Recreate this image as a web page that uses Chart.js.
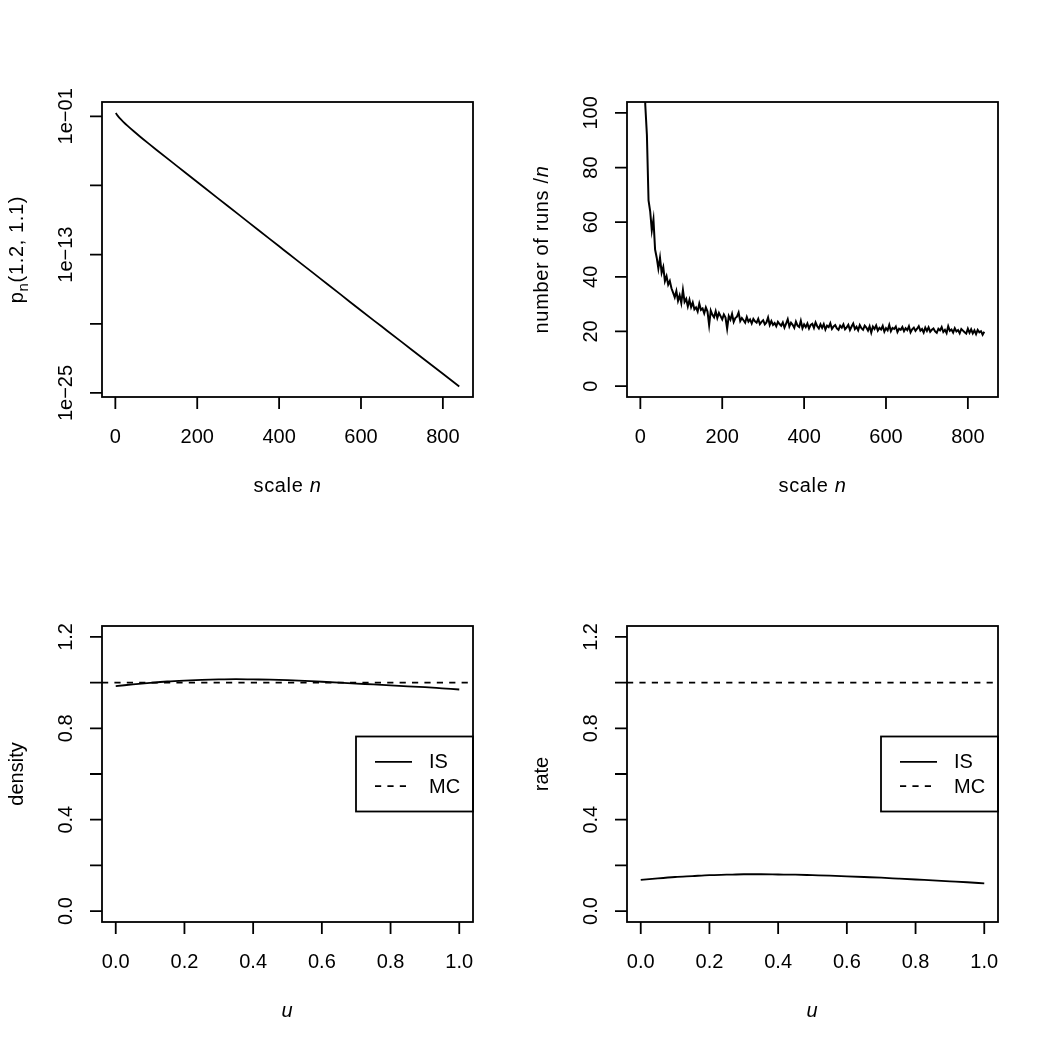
<!DOCTYPE html>
<html><head><meta charset="utf-8">
<script src="https://cdn.jsdelivr.net/npm/chart.js@4.4.1/dist/chart.umd.min.js"></script>
<style>
html,body{margin:0;padding:0;background:#fff;}
#wrap{position:relative;width:1050px;height:1050px;background:#fff;}
canvas{position:absolute;}
</style></head><body>
<div id="wrap">
<canvas id="c1" width="525" height="525" style="left:0;top:0"></canvas>
<canvas id="c2" width="525" height="525" style="left:525px;top:0"></canvas>
<canvas id="c3" width="525" height="525" style="left:0;top:525px"></canvas>
<canvas id="c4" width="525" height="525" style="left:525px;top:525px"></canvas>
</div>
<script>
// ---------- data ----------
// panel 1: p_n(1.2, 1.1) vs scale n (log scale)
const pScaleN = [1,5,10,20,30,45,60,80,100,150,200,250,300,350,400,424,450,500,550,600,650,700,750,800,840];
const pValues = [1.95e-1,1.20e-1,7.24e-2,3.16e-2,1.48e-2,5.01e-3,1.78e-3,4.68e-4,1.26e-4,5.01e-6,2.00e-7,7.94e-9,3.24e-10,1.29e-11,5.25e-13,1.12e-13,2.14e-14,8.71e-16,3.55e-17,1.41e-18,6.03e-20,2.57e-21,1.07e-22,4.57e-24,3.63e-25];

// panel 2: number of runs / n vs scale n
const runsN = [4,8,12,16,20,24,28,32,36,40,
 44,48,52,56,60,64,68,72,76,80,
 84,88,92,96,100,104,108,112,116,120,
 124,128,132,136,140,144,148,152,156,160,
 164,168,172,176,180,184,188,192,196,200,
 204,208,212,216,220,224,228,232,236,240,
 244,248,252,256,260,264,268,272,276,280,
 284,288,292,296,300,304,308,312,316,320,
 324,328,332,336,340,344,348,352,356,360,
 364,368,372,376,380,384,388,392,396,400,
 404,408,412,416,420,424,428,432,436,440,
 444,448,452,456,460,464,468,472,476,480,
 484,488,492,496,500,504,508,512,516,520,
 524,528,532,536,540,544,548,552,556,560,
 564,568,572,576,580,584,588,592,596,600,
 604,608,612,616,620,624,628,632,636,640,
 644,648,652,656,660,664,668,672,676,680,
 684,688,692,696,700,704,708,712,716,720,
 724,728,732,736,740,744,748,752,756,760,
 764,768,772,776,780,784,788,792,796,800,
 804,808,812,816,820,824,828,832,836,840];
const runsValues = [290,150,103,92,68,64,57,61,50,47,
 43,47,41.5,43.6,38.4,40.2,37.1,38.5,35.8,34.2,
 32.5,34.8,31.2,33.2,30.4,35.2,30.8,31.9,29.2,31.6,
 28.9,30.6,28.1,28.8,27.3,30.2,27.9,28.4,26.6,28.8,
 27.3,22.3,27.6,26.1,25.2,27.4,24.9,26.8,25.6,24.4,
 26.2,25.1,21.0,25.6,24.3,26.4,23.5,24.9,25.4,26.9,
 23.8,24.9,24.1,23.2,25.3,23.6,24.4,22.9,24.6,23.7,
 23.2,24.6,22.7,23.5,24.1,22.6,23.3,25.1,22.4,23.8,
 22.4,23.1,21.9,23.5,22.7,22.1,23.3,21.4,22.9,24.5,
 21.8,23.2,22.4,21.3,23.6,22.1,21.6,23.9,21.2,22.6,
 21.6,22.9,21.1,22.4,22.8,21.3,23.3,21.9,21.1,22.6,
 21.3,22.7,20.7,22.1,21.6,23.0,20.9,21.8,22.3,21.1,
 20.6,22.1,21.4,22.6,20.8,21.5,22.4,20.5,21.8,22.9,
 20.9,21.7,20.4,22.3,21.2,20.6,22.1,21.4,20.3,21.9,
 19.6,21.8,20.9,22.2,20.3,21.3,20.7,22.0,19.9,21.2,
 20.4,22.4,20.1,21.3,20.9,21.8,19.8,21.0,20.6,21.6,
 20.1,21.2,20.5,21.9,19.7,20.8,21.4,20.2,21.0,21.9,
 20.3,20.9,19.6,21.4,20.2,21.5,19.9,20.6,21.1,20.0,
 19.5,21.0,20.4,21.6,19.8,20.6,19.4,21.9,20.2,20.7,
 19.6,21.2,20.0,20.5,19.3,20.9,20.3,19.7,19.2,21.0,
 19.5,20.8,19.3,20.4,19.0,20.6,19.7,20.1,18.8,19.9];

// panels 3 & 4: IS vs MC over u
const uGrid = [0,0.05,0.1,0.15,0.2,0.25,0.3,0.35,0.4,0.45,0.5,0.55,0.6,0.65,0.7,0.75,0.8,0.85,0.9,0.95,1];
const isDensity = [0.985,0.992,0.999,1.005,1.009,1.012,1.014,1.015,1.014,1.013,1.011,1.008,1.004,1.0,0.996,0.992,0.988,0.984,0.98,0.975,0.97];
const isRate = [0.136,0.143,0.149,0.153,0.157,0.159,0.161,0.161,0.160,0.159,0.157,0.155,0.152,0.149,0.146,0.142,0.138,0.134,0.130,0.126,0.121];
const uAxisRange = [-0.04, 1.04];
const mcU = [uAxisRange[0], uAxisRange[1]];
const mcDensity = [1, 1];
const mcRate = [1, 1];

// ticks
const nTicks = [0,200,400,600,800];
const nTickLabels = ['0','200','400','600','800'];
const pTicks = [1e-25,1e-19,1e-13,1e-7,1e-1];
const pTickLabels = ['1e\u221225','','1e\u221213','','1e\u221201'];
const runsTicks = [0,20,40,60,80,100];
const runsTickLabels = ['0','20','40','60','80','100'];
const uTicks = [0,0.2,0.4,0.6,0.8,1.0];
const uTickLabels = ['0.0','0.2','0.4','0.6','0.8','1.0'];
const dTicks = [0,0.2,0.4,0.6,0.8,1.0,1.2];
const dTickLabels = ['0.0','','0.4','','0.8','','1.2'];

// ---------- drawing helpers ----------
const FONT = '"Liberation Sans", Arial, Helvetica, sans-serif';
const FS = 20;
const LW = 1.8;
const TL = 12;
const DASH = [6.2, 6.2];

function fontFor(p){ return (p.it ? 'italic ' : '') + (p.sub ? Math.round(FS*0.75) : FS) + 'px ' + FONT; }
function drawRich(ctx, title, x, y, rot){
  const parts = title.parts;
  ctx.save();
  ctx.translate(x, y);
  if (rot) ctx.rotate(-Math.PI/2);
  ctx.textAlign = 'left'; ctx.textBaseline = 'alphabetic';
  if ('letterSpacing' in ctx) ctx.letterSpacing = (title.math ? 0.65 : 0) + 'px';
  let total = 0;
  parts.forEach(p => { ctx.font = fontFor(p); total += ctx.measureText(p.t).width; });
  let cx = -total/2;
  parts.forEach(p => { ctx.font = fontFor(p); ctx.fillText(p.t, cx, p.sub ? FS*0.28 : 0); cx += ctx.measureText(p.t).width; });
  ctx.restore();
}

const rFrame = {
  id: 'rFrame',
  afterDraw(chart, args, o){
    const ctx = chart.ctx, a = chart.chartArea, x = chart.scales.x, y = chart.scales.y;
    ctx.save();
    ctx.strokeStyle = '#000'; ctx.fillStyle = '#000'; ctx.lineWidth = LW; ctx.setLineDash([]);
    ctx.strokeRect(a.left, a.top, a.right - a.left, a.bottom - a.top);
    ctx.beginPath();
    o.xTicks.forEach(v => { const px = x.getPixelForValue(v); ctx.moveTo(px, a.bottom); ctx.lineTo(px, a.bottom + TL); });
    o.yTicks.forEach(v => { const py = y.getPixelForValue(v); ctx.moveTo(a.left, py); ctx.lineTo(a.left - TL, py); });
    ctx.stroke();
    ctx.font = FS + 'px ' + FONT; ctx.textAlign = 'center'; ctx.textBaseline = 'alphabetic';
    o.xTicks.forEach((v, i) => { if (o.xLabels[i]) ctx.fillText(o.xLabels[i], x.getPixelForValue(v), a.bottom + 46); });
    o.yTicks.forEach((v, i) => {
      if (!o.yLabels[i]) return;
      const py = y.getPixelForValue(v);
      ctx.save(); ctx.translate(a.left - 30, py); ctx.rotate(-Math.PI/2); ctx.fillText(o.yLabels[i], 0, 0); ctx.restore();
    });
    drawRich(ctx, o.xTitle, (a.left + a.right)/2, a.bottom + 95, false);
    drawRich(ctx, o.yTitle, a.left - 79.5, (a.top + a.bottom)/2, true);
    if (o.legend) {
      const bw = 117, bh = 75;
      const bx = a.right - bw, by = (a.top + a.bottom)/2 - bh/2;
      ctx.strokeRect(bx, by, bw, bh);
      chart.data.datasets.forEach((d, i) => {
        const ly = by + bh/2 + (i - 0.5)*24.4;
        ctx.setLineDash(d.borderDash || []);
        ctx.beginPath(); ctx.moveTo(bx + 19, ly); ctx.lineTo(bx + 56, ly); ctx.stroke();
        ctx.setLineDash([]);
        ctx.font = FS + 'px ' + FONT; ctx.textAlign = 'left'; ctx.textBaseline = 'middle';
        ctx.fillText(d.label, bx + 73, ly + 1);
      });
    }
    ctx.restore();
  }
};

function pts(xs, ys){ return xs.map((v, i) => ({x: v, y: ys[i]})); }

function makeChart(id, datasets, xr, yr, yType, frame, padTop){
  return new Chart(document.getElementById(id), {
    type: 'line',
    data: { datasets },
    options: {
      responsive: false, animation: false, devicePixelRatio: 1,
      layout: { padding: { left: 102, right: 52, top: padTop, bottom: 128 } },
      plugins: { legend: { display: false }, tooltip: { enabled: false }, rFrame: frame },
      scales: {
        x: { type: 'linear', min: xr[0], max: xr[1], display: false, bounds: 'data' },
        y: { type: yType, min: yr[0], max: yr[1], display: false, bounds: 'data' }
      },
      elements: { point: { radius: 0 }, line: { tension: 0, borderWidth: LW, borderColor: '#000' } }
    },
    plugins: [rFrame]
  });
}

const nAxisRange = [-32.6, 873.6];
const scaleNTitle = { math: true, parts: [{t: 'scale '}, {t: 'n', it: true}] };

makeChart('c1',
  [{ label: 'p', data: pts(pScaleN, pValues), borderColor: '#000', borderWidth: LW, cubicInterpolationMode: 'monotone' }],
  nAxisRange, [Math.pow(10, -25.35), Math.pow(10, 0.24)], 'logarithmic',
  { xTicks: nTicks, xLabels: nTickLabels, yTicks: pTicks, yLabels: pTickLabels,
    xTitle: scaleNTitle,
    yTitle: { math: true, parts: [{t: 'p'}, {t: 'n', sub: true}, {t: '(1.2, 1.1)'}] } }, 102);

makeChart('c2',
  [{ label: 'runs', data: pts(runsN, runsValues), borderColor: '#000', borderWidth: 2 }],
  nAxisRange, [-4, 104], 'linear',
  { xTicks: nTicks, xLabels: nTickLabels, yTicks: runsTicks, yLabels: runsTickLabels,
    xTitle: scaleNTitle,
    yTitle: { math: true, parts: [{t: 'number of runs /'}, {t: 'n', it: true}] } }, 102);

makeChart('c3',
  [{ label: 'IS', data: pts(uGrid, isDensity), borderColor: '#000', borderWidth: LW, cubicInterpolationMode: 'monotone' },
   { label: 'MC', data: pts(mcU, mcDensity), borderColor: '#000', borderWidth: LW, borderDash: DASH }],
  uAxisRange, [-0.048, 1.248], 'linear',
  { xTicks: uTicks, xLabels: uTickLabels, yTicks: dTicks, yLabels: dTickLabels,
    xTitle: { math: true, parts: [{t: 'u', it: true}] }, yTitle: { parts: [{t: 'density'}] }, legend: true }, 101);

makeChart('c4',
  [{ label: 'IS', data: pts(uGrid, isRate), borderColor: '#000', borderWidth: LW, cubicInterpolationMode: 'monotone' },
   { label: 'MC', data: pts(mcU, mcRate), borderColor: '#000', borderWidth: LW, borderDash: DASH }],
  uAxisRange, [-0.048, 1.248], 'linear',
  { xTicks: uTicks, xLabels: uTickLabels, yTicks: dTicks, yLabels: dTickLabels,
    xTitle: { math: true, parts: [{t: 'u', it: true}] }, yTitle: { parts: [{t: 'rate'}] }, legend: true }, 101);
</script>
</body></html>
